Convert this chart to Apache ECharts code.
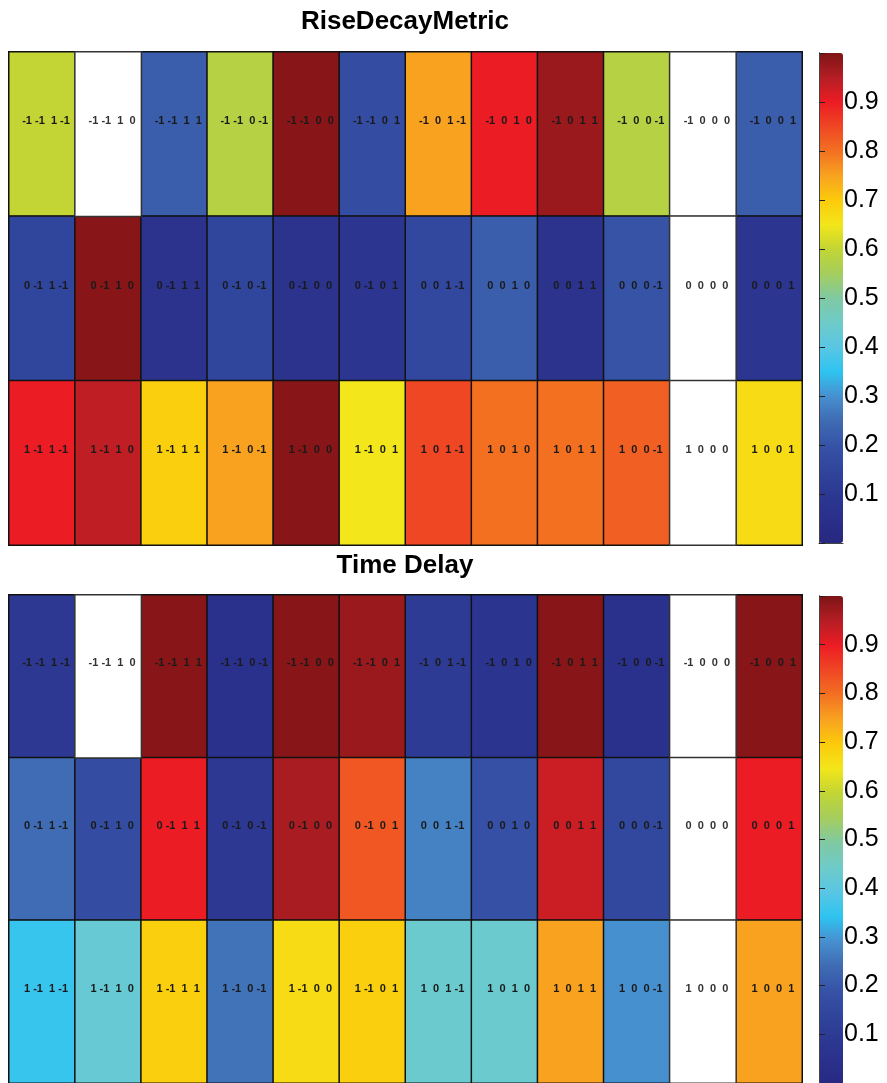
<!DOCTYPE html>
<html>
<head>
<meta charset="utf-8">
<script src="https://cdn.jsdelivr.net/npm/echarts@6/dist/echarts.min.js"></script>
<style>
  html, body { margin: 0; padding: 0; background: #fff; }
  #chart { width: 887px; height: 1083px; }
</style>
</head>
<body>
<div id="chart"></div>
<script>
// First digit of each code, one per row (top to bottom)
const rowCodes = [-1, 0, 1];
// Last three digits of each code, one triple per column
const colCodes = [
  [-1, 1, -1], [-1, 1, 0], [-1, 1, 1], [-1, 0, -1], [-1, 0, 0], [-1, 0, 1],
  [0, 1, -1], [0, 1, 0], [0, 1, 1], [0, 0, -1], [0, 0, 0], [0, 0, 1]
];

// RiseDecayMetric values per row (null = no value)
const riseDecayRowA = [0.60, null, 0.22, 0.58, 0.99, 0.18, 0.75, 0.90, 0.975, 0.58, null, 0.22];
const riseDecayRowB = [0.15, 0.99, 0.07, 0.15, 0.07, 0.09, 0.16, 0.22, 0.07, 0.20, null, 0.09];
const riseDecayRowC = [0.90, 0.94, 0.69, 0.75, 0.99, 0.65, 0.85, 0.80, 0.80, 0.82, null, 0.67];

// Time Delay values per row (null = no value)
const timeDelayRowA = [0.10, null, 0.99, 0.06, 0.99, 0.975, 0.11, 0.08, 0.99, 0.06, null, 0.99];
const timeDelayRowB = [0.25, 0.18, 0.90, 0.10, 0.96, 0.83, 0.28, 0.19, 0.93, 0.16, null, 0.90];
const timeDelayRowC = [0.36, 0.43, 0.69, 0.26, 0.67, 0.69, 0.44, 0.44, 0.75, 0.30, null, 0.75];

// Colour scale stops, evenly spaced from 0 to 1
const colorStops = [
  '#27287f', '#2a2f8a', '#2c3892', '#30459c', '#3653a6', '#3f6cb4', '#4790cf',
  '#2ec4f0', '#5ac6e3', '#6ecbc8', '#80c9a2', '#a5ce5d', '#c2d534', '#f3e61a',
  '#fcca0b', '#f8a220', '#f37021', '#ef4624', '#ec1c24', '#b41e24', '#7d1416'
];
// Colour bar tick labels
const colorbarTicks = ['0.1', '0.2', '0.3', '0.4', '0.5', '0.6', '0.7', '0.8', '0.9'];

const FONT = '"Liberation Sans", Arial, sans-serif';
const rowNames = rowCodes.map(String);
const colNames = colCodes.map(c => c.join(' '));

function codeText(r, c) {
  const digits = [rowCodes[r]].concat(colCodes[c]);
  return digits.map(d => (d < 0 ? String(d) : ' ' + d)).join(' ').trim();
}

function buildCells(rows) {
  const vals = [], empty = [];
  rows.forEach((row, r) => row.forEach((v, c) => {
    if (v === null) empty.push([c, r, 0]);
    else vals.push([c, r, v]);
  }));
  return { vals, empty };
}

const cellLabel = {
  show: true,
  formatter: p => codeText(p.data[1], p.data[0]),
  fontFamily: FONT,
  fontSize: 11,
  fontWeight: 'bold',
  color: '#1a1a1a',
  offset: [4, -13]
};
const cellBorder = { borderColor: '#111', borderWidth: 1.5 };

const rise = buildCells([riseDecayRowA, riseDecayRowB, riseDecayRowC]);
const delay = buildCells([timeDelayRowA, timeDelayRowB, timeDelayRowC]);

const panels = [
  { top: 52, height: 493, barTop: 53, barHeight: 490 },
  { top: 595, height: 491, barTop: 596, barHeight: 493 }
];

const grid = [], xAxis = [], yAxis = [], visualMap = [], series = [];
panels.forEach(p => {
  grid.push({ left: 9, top: p.top, width: 793, height: p.height, show: false });
  xAxis.push({ gridIndex: grid.length - 1, type: 'category', data: colNames, show: false });
  yAxis.push({ gridIndex: grid.length - 1, type: 'category', data: rowNames, inverse: true, show: false });
});
panels.forEach(p => {
  grid.push({ left: 819, top: p.barTop, width: 24, height: p.barHeight, show: false });
  const gi = grid.length - 1;
  xAxis.push({
    gridIndex: gi, type: 'value', min: 0, max: 1, position: 'top',
    axisLine: { show: true, lineStyle: { color: '#444', width: 1 } },
    axisTick: { show: false }, axisLabel: { show: false }, splitLine: { show: false }, z: 10
  });
  yAxis.push({
    gridIndex: gi, type: 'value', min: 0, max: 1, interval: 0.1, position: 'right',
    axisLine: { show: true, lineStyle: { color: '#444', width: 1 } },
    axisTick: { show: true, inside: false, length: 6, lineStyle: { color: '#222', width: 1 } },
    axisLabel: {
      margin: 1, fontFamily: FONT, fontSize: 25, color: '#000',
      formatter: v => {
        const t = v.toFixed(1);
        return colorbarTicks.indexOf(t) >= 0 ? t : '';
      }
    },
    splitLine: { show: false }, z: 10
  });
  yAxis.push({
    gridIndex: gi, type: 'value', min: 0, max: 1, interval: 0.1, position: 'left',
    axisLine: { show: true, lineStyle: { color: '#444', width: 1 } },
    axisTick: { show: true, inside: true, length: 4, lineStyle: { color: '#222', width: 1 } },
    axisLabel: { show: false }, splitLine: { show: false }, z: 10
  });
});

[rise, delay].forEach((d, i) => {
  series.push({
    type: 'heatmap', xAxisIndex: i, yAxisIndex: i, data: d.vals,
    label: cellLabel, itemStyle: cellBorder, emphasis: { disabled: true }
  });
});
[rise, delay].forEach((d, i) => {
  series.push({
    type: 'heatmap', xAxisIndex: i, yAxisIndex: i, data: d.empty,
    label: Object.assign({}, cellLabel, { color: '#333' }),
    itemStyle: Object.assign({ color: '#ffffff' }, cellBorder, { borderColor: '#333' }),
    emphasis: { disabled: true }
  });
});

panels.forEach((p, i) => {
  visualMap.push({
    type: 'continuous', seriesIndex: i, min: 0, max: 1,
    calculable: false, realtime: false, hoverLink: false,
    left: 819, top: p.barTop, itemWidth: 24, itemHeight: p.barHeight,
    padding: 0, text: null, showLabel: false,
    inRange: { color: colorStops }, z: 2
  });
});

const chart = echarts.init(document.getElementById('chart'), null, { renderer: 'canvas' });
chart.setOption({
  backgroundColor: '#fff',
  animation: false,
  title: [
    { text: 'RiseDecayMetric', left: 405, top: 9, textAlign: 'center', padding: 0,
      textStyle: { fontFamily: FONT, fontSize: 26, fontWeight: 'bold', color: '#000' } },
    { text: 'Time Delay', left: 405, top: 553, textAlign: 'center', padding: 0,
      textStyle: { fontFamily: FONT, fontSize: 26, fontWeight: 'bold', color: '#000' } }
  ],
  grid, xAxis, yAxis, visualMap, series
});
</script>
</body>
</html>
